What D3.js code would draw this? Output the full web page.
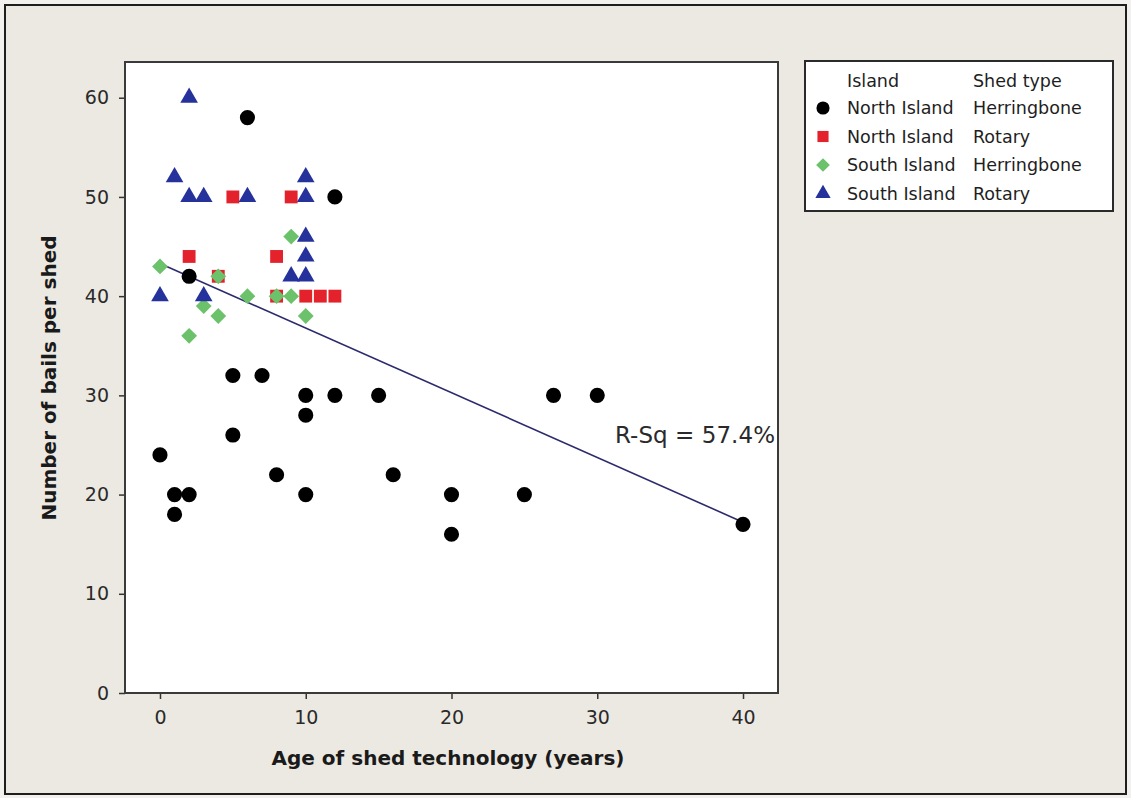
<!DOCTYPE html>
<html>
<head>
<meta charset="utf-8">
<script src="https://cdn.jsdelivr.net/npm/d3@7"></script>
<style>
  html, body { margin: 0; padding: 0; background: #f4f3f0; }
  svg { display: block; font-family: "DejaVu Sans", sans-serif; }
</style>
</head>
<body>
<svg id="chart" width="1131" height="798"></svg>
<script>
// Age of shed technology (years) vs number of bails per shed, by island and shed type
const northHerringboneAge   = [6, 12, 2, 5, 7, 5, 0, 1, 2, 1, 8, 10, 10, 12, 10, 15, 16, 20, 20, 25, 27, 30, 40];
const northHerringboneBails = [58, 50, 42, 32, 32, 26, 24, 20, 20, 18, 22, 30, 28, 30, 20, 30, 22, 20, 16, 20, 30, 30, 17];

const northRotaryAge   = [2, 5, 9, 8, 10, 11, 12, 4, 8];
const northRotaryBails = [44, 50, 50, 44, 40, 40, 40, 42, 40];

const southHerringboneAge   = [0, 9, 3, 4, 2, 6, 9, 10, 4, 8];
const southHerringboneBails = [43, 46, 39, 38, 36, 40, 40, 38, 42, 40];

const southRotaryAge   = [2, 1, 2, 3, 6, 10, 10, 10, 10, 9, 10, 0, 3];
const southRotaryBails = [60, 52, 50, 50, 50, 52, 50, 46, 44, 42, 42, 40, 40];

const groupIslands = ["North Island", "North Island", "South Island", "South Island"];
const groupShedTypes = ["Herringbone", "Rotary", "Herringbone", "Rotary"];

// Fitted line: bails = intercept + slope * age
const fitIntercept = 43.3;
const fitSlope = -0.652;
const fitRange = [0, 40];
const rSqLabel = "R-Sq = 57.4%";

const xTicks = [0, 10, 20, 30, 40];
const yTicks = [0, 10, 20, 30, 40, 50, 60];
const xTitle = "Age of shed technology (years)";
const yTitle = "Number of bails per shed";

const groups = [
  { age: northHerringboneAge, bails: northHerringboneBails, symbol: "circle",   color: "#000000" },
  { age: northRotaryAge,      bails: northRotaryBails,      symbol: "square",   color: "#e3222b" },
  { age: southHerringboneAge, bails: southHerringboneBails, symbol: "diamond",  color: "#6cc26a" },
  { age: southRotaryAge,      bails: southRotaryBails,      symbol: "triangle", color: "#26329b" }
].map((g, i) => ({ ...g, island: groupIslands[i], shedType: groupShedTypes[i] }));

const svg = d3.select("#chart");
const W = 1131, H = 798;
const plot = { left: 125, right: 778, top: 62, bottom: 693 };

// Window background and frame
svg.append("rect").attr("x", 0).attr("y", 0).attr("width", W).attr("height", H).attr("fill", "#f2f1ee");
svg.append("rect").attr("x", 5).attr("y", 5).attr("width", W - 10).attr("height", H - 9)
  .attr("fill", "#ece9e2").attr("stroke", "#1e1e1e").attr("stroke-width", 2);

const x = d3.scaleLinear().domain([-2.4, 42.4]).range([plot.left, plot.right]);
const y = d3.scaleLinear().domain([0, 63.6]).range([plot.bottom, plot.top]);

// Data region
svg.append("rect")
  .attr("x", plot.left).attr("y", plot.top)
  .attr("width", plot.right - plot.left).attr("height", plot.bottom - plot.top)
  .attr("fill", "#ffffff");

// Axes
const axisFont = 19;
const yAxis = svg.append("g").attr("transform", `translate(${plot.left},0)`)
  .call(d3.axisLeft(y).tickValues(yTicks).tickSize(6).tickPadding(10).tickFormat(d3.format("d")));
const xAxis = svg.append("g").attr("transform", `translate(0,${plot.bottom})`)
  .call(d3.axisBottom(x).tickValues(xTicks).tickSize(6).tickPadding(12).tickFormat(d3.format("d")));
[yAxis, xAxis].forEach(a => {
  a.select(".domain").remove();
  a.selectAll(".tick line").attr("stroke", "#333").attr("stroke-width", 1.5);
  a.selectAll(".tick text").attr("fill", "#2a2a2a").style("font-size", axisFont + "px")
    .style("font-family", "'DejaVu Sans', sans-serif");
});

// Plot border
svg.append("rect")
  .attr("x", plot.left).attr("y", plot.top)
  .attr("width", plot.right - plot.left).attr("height", plot.bottom - plot.top)
  .attr("fill", "none").attr("stroke", "#3a3a3a").attr("stroke-width", 2);

// Axis titles
svg.append("text")
  .attr("x", 448).attr("y", 765)
  .attr("text-anchor", "middle")
  .attr("font-weight", "bold").attr("font-size", 20).attr("fill", "#1a1a1a")
  .text(xTitle);
svg.append("text")
  .attr("transform", `translate(56,378) rotate(-90)`)
  .attr("text-anchor", "middle")
  .attr("font-weight", "bold").attr("font-size", 20).attr("fill", "#1a1a1a")
  .text(yTitle);

// Marker shapes
const symbolSize = { circle: 180, square: 165, diamond: 125, triangle: 135 };
function markerPath(kind, scale = 1) {
  const type = { circle: d3.symbolCircle, square: d3.symbolSquare, diamond: d3.symbolSquare, triangle: d3.symbolTriangle }[kind];
  return d3.symbol().type(type).size(symbolSize[kind] * scale)();
}
function markerTransform(kind, px, py) {
  return kind === "diamond" ? `translate(${px},${py}) rotate(45)` : `translate(${px},${py})`;
}

// Fitted regression line
svg.append("clipPath").attr("id", "plotClip")
  .append("rect").attr("x", plot.left).attr("y", plot.top)
  .attr("width", plot.right - plot.left).attr("height", plot.bottom - plot.top);

const pointsLayer = svg.append("g").attr("clip-path", "url(#plotClip)");

pointsLayer.append("line")
  .attr("x1", x(fitRange[0])).attr("y1", y(fitIntercept + fitSlope * fitRange[0]))
  .attr("x2", x(fitRange[1])).attr("y2", y(fitIntercept + fitSlope * fitRange[1]))
  .attr("stroke", "#2b2b6e").attr("stroke-width", 1.6);

// Points, drawn group by group
groups.forEach(g => {
  const pts = g.age.map((a, i) => ({ a, b: g.bails[i] }));
  pointsLayer.append("g").selectAll("path").data(pts).join("path")
    .attr("d", markerPath(g.symbol))
    .attr("transform", d => markerTransform(g.symbol, x(d.a), y(d.b)))
    .attr("fill", g.color);
});

// R-squared annotation
svg.append("text")
  .attr("x", 615).attr("y", 443)
  .attr("font-size", 23).attr("fill", "#2a2a2a")
  .attr("textLength", 160).attr("lengthAdjust", "spacing")
  .text(rSqLabel);

// Legend
const legend = svg.append("g");
legend.append("rect").attr("x", 805).attr("y", 61).attr("width", 308).attr("height", 150)
  .attr("fill", "#ffffff").attr("stroke", "#2a2a2a").attr("stroke-width", 2);
const colIsland = 847, colShed = 973, markerX = 823;
const headerY = 81, rowY0 = 108, rowStep = 28.5;
const legendFont = 17.5;
legend.append("text").attr("x", colIsland).attr("y", headerY + 6).attr("font-size", legendFont).attr("fill", "#1e1e1e").text("Island");
legend.append("text").attr("x", colShed).attr("y", headerY + 6).attr("font-size", legendFont).attr("fill", "#1e1e1e").text("Shed type");
groups.forEach((g, i) => {
  const cy = rowY0 + i * rowStep;
  legend.append("path").attr("d", markerPath(g.symbol, 0.75))
    .attr("transform", markerTransform(g.symbol, markerX, cy)).attr("fill", g.color);
  legend.append("text").attr("x", colIsland).attr("y", cy + 6).attr("font-size", legendFont).attr("fill", "#1e1e1e").text(g.island);
  legend.append("text").attr("x", colShed).attr("y", cy + 6).attr("font-size", legendFont).attr("fill", "#1e1e1e").text(g.shedType);
});
</script>
</body>
</html>
